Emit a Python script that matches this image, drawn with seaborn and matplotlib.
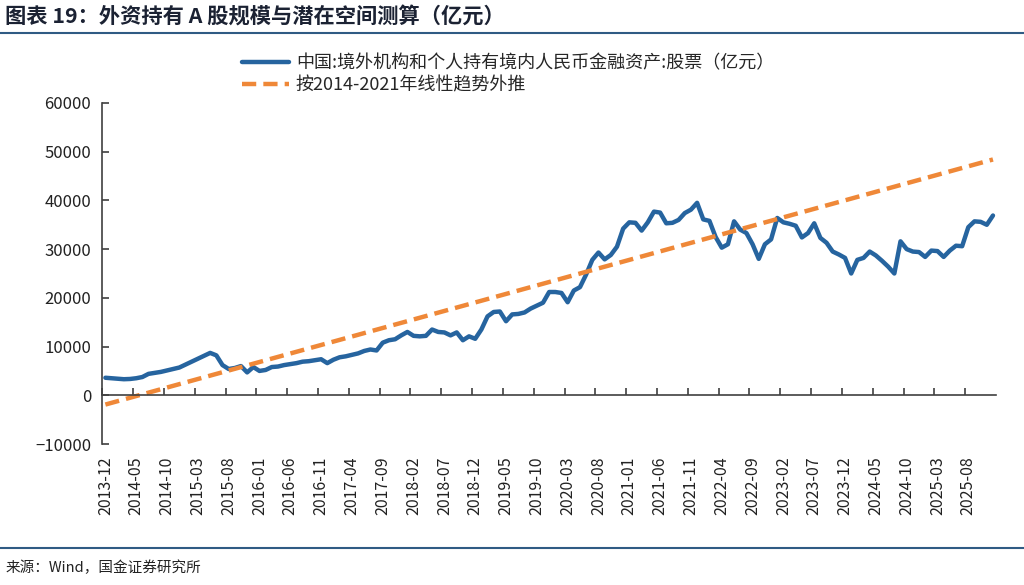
import pandas as pd
import numpy as np
import seaborn as sns
import matplotlib.pyplot as plt
from matplotlib.lines import Line2D

# monthly data 2013-12 .. 2025-12
months = pd.period_range('2013-12', '2025-12', freq='M').strftime('%Y-%m').tolist()

holdings = [
    3600, 3500, 3400, 3300, 3350, 3500, 3750, 4400, 4600, 4800,
    5100, 5400, 5700, 6300, 6900, 7500, 8100, 8700, 8200, 6200,
    5400, 5600, 6000, 4700, 5800, 5000, 5200, 5800, 5900, 6200,
    6400, 6600, 6900, 7000, 7200, 7400, 6600, 7300, 7800, 8000,
    8300, 8600, 9100, 9400, 9200, 10800, 11300, 11500, 12300, 13000,
    12200, 12100, 12200, 13500, 13000, 12900, 12300, 12900, 11300, 12100,
    11600, 13500, 16200, 17100, 17200, 15200, 16600, 16700, 17000, 17800,
    18400, 19000, 21200, 21200, 21000, 19100, 21500, 22200, 24800, 27800,
    29300, 27900, 28800, 30500, 34200, 35500, 35400, 33800, 35500, 37700,
    37500, 35300, 35400, 36000, 37400, 38100, 39500, 36100, 35800, 32500,
    30300, 31000, 35700, 34000, 33300, 31000, 28000, 31000, 32000, 36400,
    35500, 35200, 34800, 32400, 33300, 35300, 32300, 31300, 29500, 28900,
    28200, 25000, 27800, 28200, 29500, 28700, 27600, 26400, 25000, 31600,
    30000, 29500, 29400, 28400, 29700, 29600, 28400, 29700, 30700, 30600,
    34500, 35700, 35600, 35000, 36900,
]

# linear trend (2014-2021) extrapolated, endpoints
trend_months = ['2013-12', '2025-12']
trend_values = [-1900, 48400]

label_blue = '中国:境外机构和个人持有境内人民币金融资产:股票（亿元）'
label_orange = '按2014-2021年线性趋势外推'
title = '图表 19：外资持有 A 股规模与潜在空间测算（亿元）'
source = '来源：Wind，国金证券研究所'

assert len(holdings) == len(months)

sns.set_theme(style='ticks')
plt.rcParams['font.family'] = ['Noto Sans CJK SC', 'DejaVu Sans']

df = pd.DataFrame({'pos': range(len(months)), 'month': months, 'value': holdings})
trend = pd.DataFrame({'pos': [months.index(m) for m in trend_months], 'value': trend_values})

blue = '#26649f'
orange = '#ef8838'
dark = '#404040'

fig = plt.figure(figsize=(10.24, 5.85), dpi=100)
ax = fig.add_axes([0.0999, 0.241, 0.8728, 0.583])

sns.lineplot(data=df, x='pos', y='value', ax=ax, color=blue, linewidth=3.2, label=label_blue,
             solid_joinstyle='round', solid_capstyle='round')
sns.lineplot(data=trend, x='pos', y='value', ax=ax, color=orange, linewidth=3.2, label=label_orange)
ax.lines[1].set_dashes((3.2, 1.6))

ax.set_xlim(-0.5, len(months) - 0.5)
ax.set_ylim(-10000, 60000)
ax.set_yticks(np.arange(-10000, 60001, 10000))
ax.set_xlabel('')
ax.set_ylabel('')

for s in ['top', 'right']:
    ax.spines[s].set_visible(False)
ax.spines['bottom'].set_position(('data', 0))
for s in ['bottom', 'left']:
    ax.spines[s].set_color(dark)
    ax.spines[s].set_linewidth(1.2)

ax.set_xticks(np.arange(-0.5, len(months) - 1, 5))
ax.tick_params(axis='x', direction='in', length=5, width=1.2, color=dark, labelbottom=False)
ax.tick_params(axis='y', direction='in', length=5, width=1.2, color=dark,
               labelsize=12, labelcolor='#222222', pad=8)

sec = ax.secondary_xaxis('bottom')
sec.set_xticks(df['pos'][::5], labels=df['month'][::5])
sec.tick_params(length=0, labelsize=11.5, labelrotation=90, pad=9, labelcolor='#222222')
sec.spines['bottom'].set_visible(False)

ax.get_legend().remove()
handles, labels = ax.get_legend_handles_labels()
fig.legend(handles, labels, loc='upper left', bbox_to_anchor=(0.236, 0.908),
           frameon=False, borderpad=0, borderaxespad=0, fontsize=13,
           handlelength=2.6, handletextpad=0.4, labelspacing=0.25)

fig.text(0.005, 0.971, title, fontsize=15.3, fontweight='bold', color='#1b2233', va='center', ha='left')
fig.add_artist(Line2D([0, 1], [0.9436, 0.9436], transform=fig.transFigure, color='#2f5b84', linewidth=1.5))
fig.add_artist(Line2D([0, 1], [0.0632, 0.0632], transform=fig.transFigure, color='#2f5b84', linewidth=1.5))
fig.text(0.005, 0.029, source, fontsize=10.5, color='#222222', va='center', ha='left')

fig.savefig('out.png', dpi=100)
